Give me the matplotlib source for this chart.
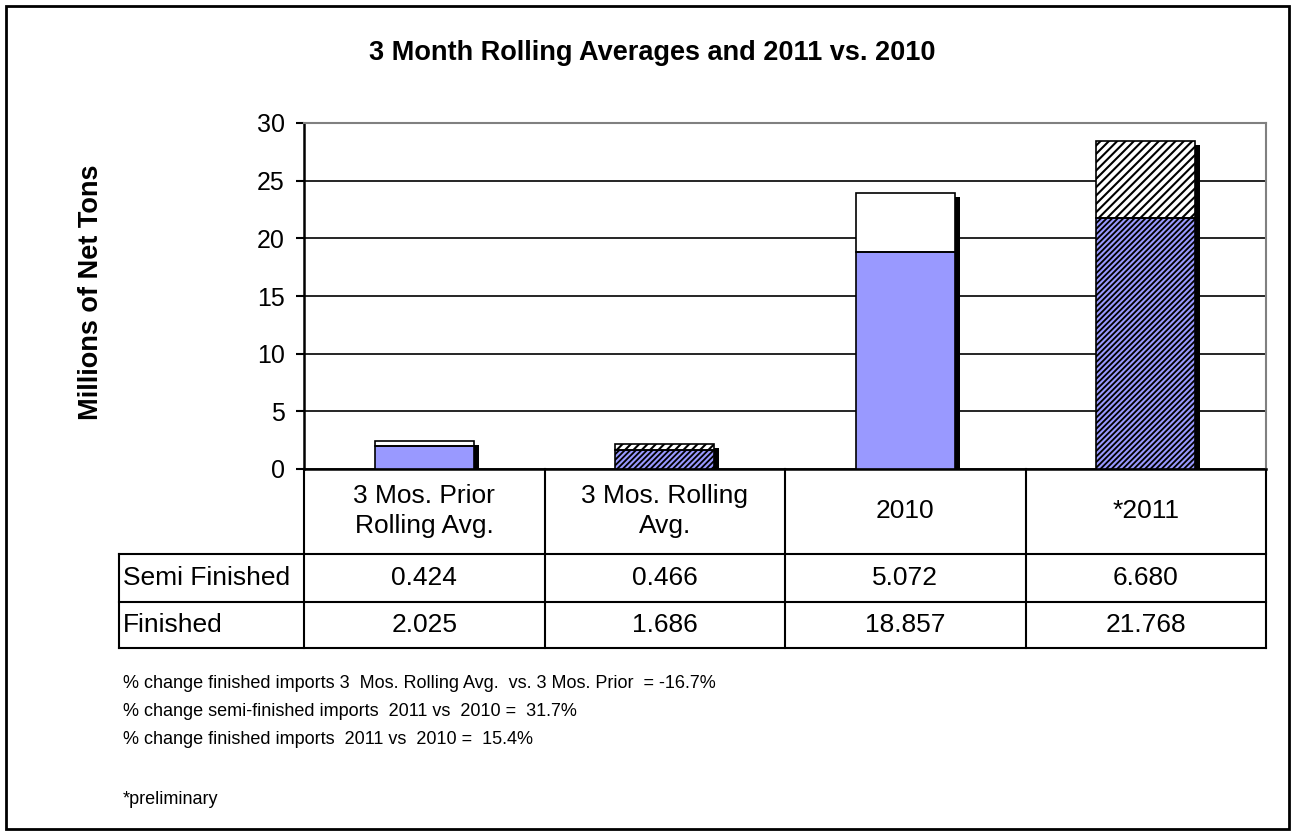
import matplotlib as mpl
import matplotlib.pyplot as plt
from matplotlib.patches import Rectangle
from matplotlib.transforms import offset_copy, blended_transform_factory

categories = ["3 Mos. Prior\nRolling Avg.", "3 Mos. Rolling\nAvg.", "2010", "*2011"]
row_labels = ["Semi Finished", "Finished"]
semi_finished = [0.424, 0.466, 5.072, 6.680]
finished = [2.025, 1.686, 18.857, 21.768]
hatched = [False, True, False, True]
yticks = [0, 5, 10, 15, 20, 25, 30]
notes = [
    "% change finished imports 3  Mos. Rolling Avg.  vs. 3 Mos. Prior  = -16.7%",
    "% change semi-finished imports  2011 vs  2010 =  31.7%",
    "% change finished imports  2011 vs  2010 =  15.4%",
    "*preliminary",
]

BLUE = "#9999FF"
W, H = 1293, 833

mpl.rcParams['font.family'] = ['Liberation Sans', 'DejaVu Sans']
mpl.rcParams['hatch.linewidth'] = 1.5


def fx(px):
    return px / W


def fy(py):
    return 1 - py / H


fig = plt.figure(figsize=(W / 100, H / 100), dpi=100)
ax = fig.add_axes([fx(304), fy(469), fx(1266) - fx(304), fy(123) - fy(469)])

x = list(range(len(categories)))
totals = [s + f for s, f in zip(semi_finished, finished)]
bw = 0.41

# drop shadows
shadow = offset_copy(ax.transData, fig=fig, x=5, y=-4, units='dots')
ax.bar(x, totals, bw, color='black', linewidth=0, transform=shadow, zorder=2)

for i in x:
    if hatched[i]:
        ax.bar(i, finished[i], bw, facecolor='black', edgecolor=BLUE,
               hatch='//////', linewidth=0, zorder=3)
        ax.bar(i, semi_finished[i], bw, bottom=finished[i], facecolor='white',
               edgecolor='black', hatch='////', linewidth=0, zorder=3)
    else:
        ax.bar(i, finished[i], bw, facecolor=BLUE, linewidth=0, zorder=3)
        ax.bar(i, semi_finished[i], bw, bottom=finished[i], facecolor='white',
               linewidth=0, zorder=3)
    ax.bar(i, finished[i], bw, fill=False, edgecolor='black', linewidth=1.2, zorder=4)
    ax.bar(i, semi_finished[i], bw, bottom=finished[i], fill=False,
           edgecolor='black', linewidth=1.2, zorder=4)

ax.set_xlim(-0.5, len(categories) - 0.5)
ax.set_ylim(0, 30)
ax.set_yticks(yticks)
ax.yaxis.grid(True, color='black', linewidth=1.2, zorder=0)
ax.set_axisbelow(True)
ax.set_xticks([])
ax.tick_params(axis='y', length=6, width=1.5, pad=8, labelsize=18)

ax.spines['left'].set_linewidth(1.8)
ax.spines['bottom'].set_linewidth(1.8)
ax.spines['top'].set_color('#808080')
ax.spines['right'].set_color('#808080')
ax.spines['top'].set_linewidth(1.5)
ax.spines['right'].set_linewidth(1.5)

fig.text(fx(652), fy(53), "3 Month Rolling Averages and 2011 vs. 2010",
         ha='center', va='center', fontsize=19.5, fontweight='bold')
fig.text(fx(91), fy(292), "Millions of Net Tons", rotation=90,
         ha='center', va='center', fontsize=19.5, fontweight='bold')

# data table below the axis
tr = blended_transform_factory(ax.transData, fig.transFigure)
lw = 1.5
row_top, row_mid, row_bot = 554, 602, 648
for b in [i - 0.5 for i in x] + [len(x) - 0.5]:
    ax.plot([b, b], [fy(469), fy(row_bot)], color='black', lw=lw,
            transform=tr, clip_on=False)
for yy in [row_top, row_mid, row_bot]:
    fig.add_artist(plt.Line2D([fx(119), fx(1266)], [fy(yy), fy(yy)],
                              color='black', lw=lw))
fig.add_artist(plt.Line2D([fx(119), fx(119)], [fy(row_top), fy(row_bot)],
                          color='black', lw=lw))

for i, cat in enumerate(categories):
    ax.text(i, fy(511), cat, transform=tr, ha='center', va='center',
            fontsize=19, linespacing=1.3)
    ax.text(i, fy(578), f"{semi_finished[i]:.3f}", transform=tr,
            ha='center', va='center', fontsize=19)
    ax.text(i, fy(625), f"{finished[i]:.3f}", transform=tr,
            ha='center', va='center', fontsize=19)
for label, yy in zip(row_labels, [578, 625]):
    fig.text(fx(123), fy(yy), label, ha='left', va='center', fontsize=19)

for note, yy in zip(notes, [683, 711, 740, 800]):
    fig.text(fx(123), fy(yy), note, ha='left', va='center', fontsize=13)

fig.add_artist(Rectangle((fx(6), fy(829)), fx(1289) - fx(6), fy(6) - fy(829),
                         transform=fig.transFigure, fill=False,
                         edgecolor='black', linewidth=2))

plt.savefig('out.png', dpi=100)
